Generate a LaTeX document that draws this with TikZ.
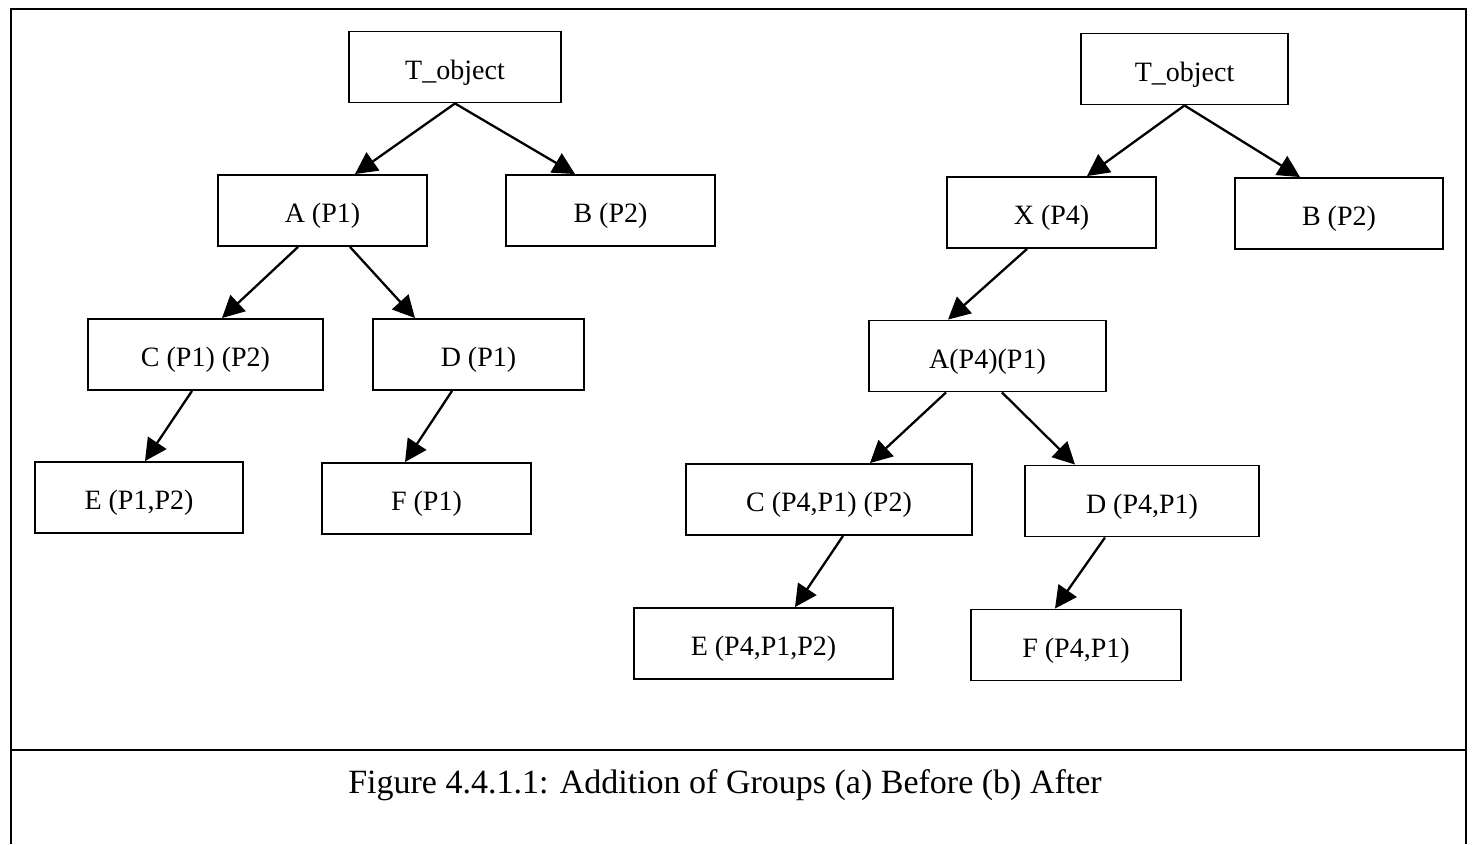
\documentclass[tikz,border=0pt]{standalone}
\usepackage{fontspec}
\setmainfont{Liberation Serif}
\usetikzlibrary{arrows.meta}
\begin{document}
\begin{tikzpicture}[x=1pt,y=-1pt,
  box/.style={draw, line width=1.9pt, minimum width=#1, minimum height=71pt, inner sep=0pt,
    text height=25pt, text depth=1pt, font=\fontsize{28}{32}\selectfont},
  arr/.style={line width=2.3pt, -{Triangle[length=22pt,width=22pt]}},
  frame/.style={line width=2.6pt}]
\useasboundingbox (0,0) rectangle (1476,844);
% frame
\draw[frame] (11,844) -- (11,9) -- (1466,9) -- (1466,844);
\draw[frame] (11,750) -- (1466,750);
\node[font=\fontsize{34}{40}\selectfont] (cap) at (725,785) {Figure 4.4.1.1: Addition of Groups (a) Before (b) After};
% left tree
\node[box=212pt] (T) at (455,67) {T\_object};
\node[box=209pt] (A) at (322.5,210.5) {A (P1)};
\node[box=209pt] (B) at (610.5,210.5) {B (P2)};
\node[box=235pt] (C) at (205.5,354.5) {C (P1) (P2)};
\node[box=211pt] (D) at (478.5,354.5) {D (P1)};
\node[box=208pt] (E) at (139,497.5) {E (P1,P2)};
\node[box=209pt] (F) at (426.5,498.5) {F (P1)};
\draw[arr] (T.south) -- ([xshift=32.5pt]A.north);
\draw[arr] (T.south) -- ([xshift=-35.5pt]B.north);
\draw[arr] ([xshift=-24.5pt]A.south) -- ([xshift=16.5pt]C.north);
\draw[arr] ([xshift=27.5pt]A.south) -- ([xshift=-63.5pt]D.north);
\draw[arr] ([xshift=-13.5pt]C.south) -- ([xshift=6pt]E.north);
\draw[arr] ([xshift=-26.5pt]D.south) -- ([xshift=-21.5pt]F.north);
% right tree
\node[box=207pt] (T2) at (1184.5,69) {T\_object};
\node[box=209pt] (X2) at (1051.5,212.5) {X (P4)};
\node[box=208pt] (B2) at (1339,213.5) {B (P2)};
\node[box=237pt] (A2) at (987.5,356) {A(P4)(P1)};
\node[box=286pt] (C2) at (829,499.5) {C (P4,P1) (P2)};
\node[box=234pt] (D2) at (1142,501) {D (P4,P1)};
\node[box=259pt] (E2) at (763.5,643.5) {E (P4,P1,P2)};
\node[box=210pt] (F2) at (1076,645) {F (P4,P1)};
\draw[arr] (T2.south) -- ([xshift=35.5pt]X2.north);
\draw[arr] (T2.south) -- ([xshift=-39pt]B2.north);
\draw[arr] ([xshift=-24.5pt]X2.south) -- ([xshift=-39.5pt]A2.north);
\draw[arr] ([xshift=-41.5pt]A2.south) -- ([xshift=41pt]C2.north);
\draw[arr] ([xshift=14.5pt]A2.south) -- ([xshift=-67pt]D2.north);
\draw[arr] ([xshift=14pt]C2.south) -- ([xshift=31.5pt]E2.north);
\draw[arr] ([xshift=-37pt]D2.south) -- ([xshift=-21pt]F2.north);
\end{tikzpicture}
\end{document}
